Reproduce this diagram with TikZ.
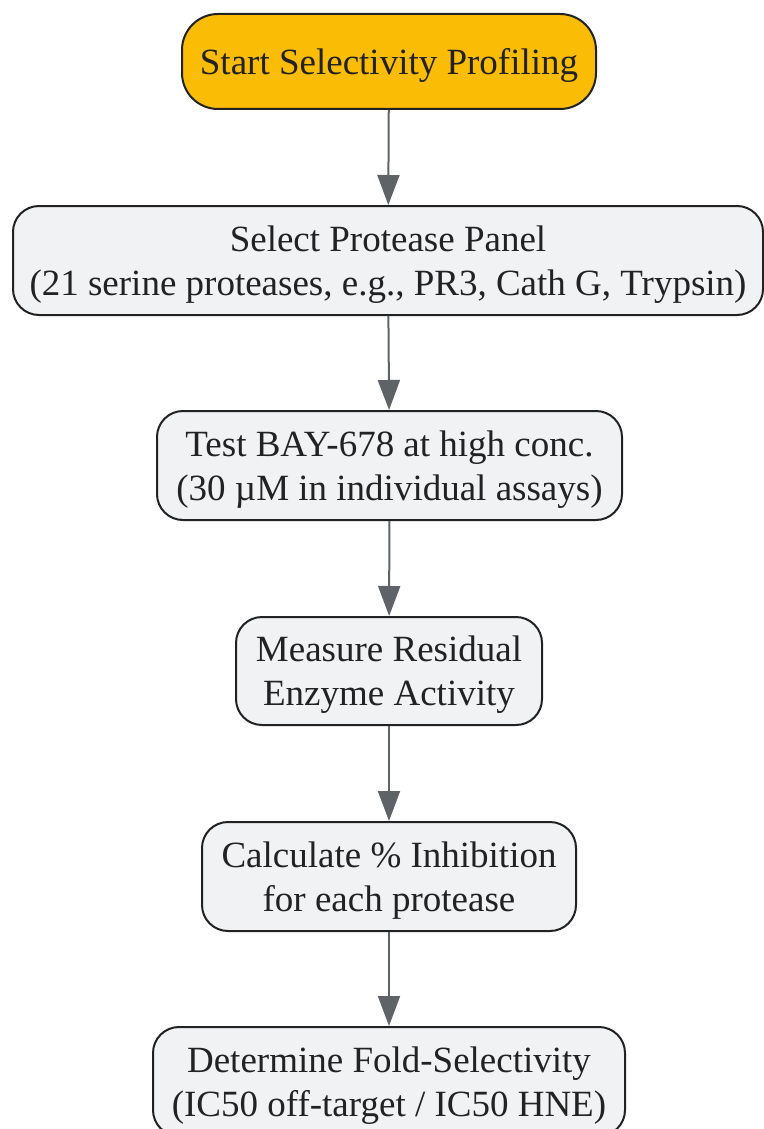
\documentclass[tikz,border=0pt]{standalone}
\usepackage{fontspec}
\setmainfont{Liberation Serif}
\usetikzlibrary{arrows.meta}
\definecolor{startfill}{HTML}{FBBC05}
\definecolor{boxfill}{HTML}{F1F2F4}
\definecolor{boxline}{HTML}{222222}
\definecolor{arrowcol}{HTML}{5F6368}
\definecolor{txt}{HTML}{222222}
\tikzset{
  box/.style={draw=boxline, line width=2pt, fill=boxfill, rounded corners=26pt,
    align=center, inner sep=0pt, text=txt, text depth=-1pt, font=\fontsize{37}{44}\selectfont},
  startbox/.style={box, fill=startfill, rounded corners=36pt},
  link/.style={draw=arrowcol, line width=2pt, -{Triangle[length=30pt,width=22pt]}}
}
\begin{document}
\begin{tikzpicture}[x=1pt,y=-1pt]
\useasboundingbox (0,0) rectangle (763,1129);
\node[startbox, minimum width=414pt, minimum height=95pt] (n1) at (389,61.5) {Start Selectivity Profiling};
\node[box, minimum width=750pt, minimum height=109pt] (n2) at (388,260.5) {Select Protease Panel\\(21 serine proteases, e.g., PR3, Cath G, Trypsin)};
\node[box, minimum width=465pt, minimum height=109pt] (n3) at (389.5,465.5) {Test BAY-678 at high conc.\\(30 µM in individual assays)};
\node[box, minimum width=306pt, minimum height=108pt] (n4) at (389,671) {Measure Residual\\Enzyme Activity};
\node[box, minimum width=374pt, minimum height=109pt] (n5) at (389,876.5) {Calculate \% Inhibition\\for each protease};
\node[box, minimum width=472pt, minimum height=109pt] (n6) at (389,1081.5) {Determine Fold-Selectivity\\(IC50 off-target / IC50 HNE)};
\draw[link] (n1) -- (n2);
\draw[link] (n2) -- (n3);
\draw[link] (n3) -- (n4);
\draw[link] (n4) -- (n5);
\draw[link] (n5) -- (n6);
\end{tikzpicture}
\end{document}
